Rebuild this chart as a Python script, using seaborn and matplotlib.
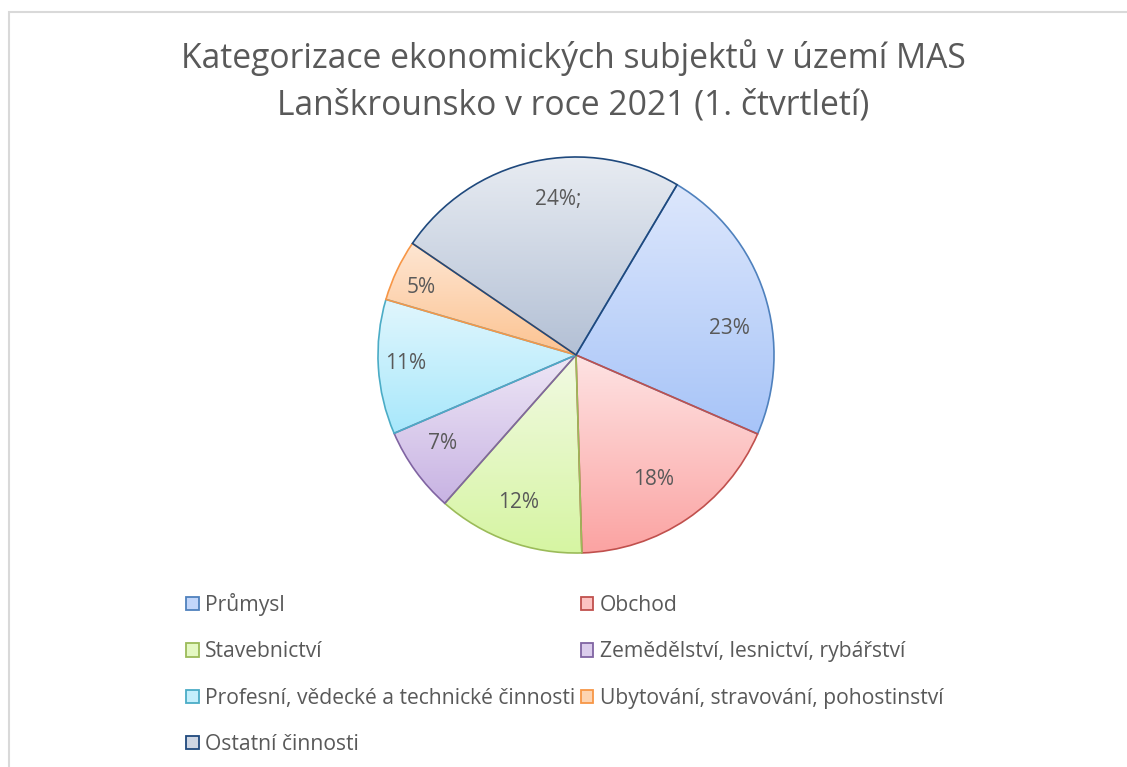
import numpy as np
import matplotlib
matplotlib.use("Agg")
import matplotlib.pyplot as plt
import matplotlib.colors as mcolors
from matplotlib.patches import Rectangle
import seaborn as sns

sns.set_theme(style="white")
plt.rcParams['font.family'] = ['Open Sans', 'DejaVu Sans']

# ---- data ----
categories = ["Průmysl", "Obchod", "Stavebnictví", "Zemědělství, lesnictví, rybářství",
              "Profesní, vědecké a technické činnosti", "Ubytování, stravování, pohostinství",
              "Ostatní činnosti"]
shares = [23, 18, 12, 7, 11, 5, 24]
value_labels = ["23%", "18%", "12%", "7%", "11%", "5%", "24%;"]
title = "Kategorizace ekonomických subjektů v území MAS\nLanškrounsko v roce 2021 (1. čtvrtletí)"

# ---- styles ----
edge_colors = ["#4f81bd", "#c0504d", "#9bbb59", "#8064a2", "#4bacc6", "#f79646", "#1f497d"]
top_colors = ["#dde7fc", "#fee3e3", "#f2fae4", "#eee7f6", "#e1f6fd", "#fee6d3", "#e8ecf2"]
bot_colors = ["#a7c4f8", "#fba3a2", "#d6f5a2", "#c8b3e3", "#a8e8fb", "#fcc391", "#b3c0d5"]
label_radius = [0.785, 0.74, 0.80, 0.81, 0.86, 0.855, 0.79]
label_angle_shift = [-8.0, -2.1, -1.4, -2.3, -0.8, 1.7, -6.0]
text_color = "#595959"

W, H = 1127, 767
fig = plt.figure(figsize=(W / 100, H / 100), dpi=100)
fig.patch.set_facecolor("white")

# frame
fig.patches.append(Rectangle((9 / W, -0.1), 1.2, 1 - 12 / H + 0.1, transform=fig.transFigure,
                             fill=False, edgecolor="#d9d9d9", lw=1.5, zorder=0))

cx, cy, R = 576, 355, 199
ax = fig.add_axes([(cx - R) / W, (H - cy - R) / H, 2 * R / W, 2 * R / H])

mid_colors = [mcolors.to_hex((np.array(mcolors.to_rgb(t)) + np.array(mcolors.to_rgb(b))) / 2)
              for t, b in zip(top_colors, bot_colors)]

wedges, _ = ax.pie(shares, colors=mid_colors, startangle=59.3, counterclock=False,
                   radius=1.0, wedgeprops=dict(linewidth=1.2))

for w, ec in zip(wedges, edge_colors):
    w.set_edgecolor(ec)

# legend (row-wise ordering like Excel)
order = [0, 2, 4, 6, 1, 3, 5]
leg = fig.legend([wedges[i] for i in order], [categories[i] for i in order],
                 loc="upper left", bbox_to_anchor=(186 / W, 1 - 593 / H),
                 ncol=2, frameon=False, fontsize=15.2, handlelength=0.6, handleheight=0.6,
                 handletextpad=0.3, labelspacing=1.2, columnspacing=0.25, borderpad=0,
                 borderaxespad=0)
for t in leg.get_texts():
    t.set_color(text_color)
for h in leg.legend_handles:
    h.set_linewidth(1.3)

# gradient fills clipped to wedges
for w, tc, bc in zip(wedges, top_colors, bot_colors):
    bb = w.get_path().get_extents(w.get_patch_transform())
    t = np.array(mcolors.to_rgb(tc))
    b = np.array(mcolors.to_rgb(bc))
    f = np.linspace(0, 1, 256)[:, None]
    grad = (t[None, :] * (1 - f) + b[None, :] * f)[:, None, :]
    im = ax.imshow(grad, extent=[bb.x0, bb.x1, bb.y0, bb.y1], origin="upper",
                   aspect="auto", zorder=1, interpolation="bilinear")
    im.set_clip_path(w)
    w.set_facecolor("none")
    w.set_zorder(2)

# value labels
for w, lab, r, sh in zip(wedges, value_labels, label_radius, label_angle_shift):
    ang = np.deg2rad((w.theta1 + w.theta2) / 2 + sh)
    ax.text(r * np.cos(ang), r * np.sin(ang), lab, ha="center", va="center",
            fontsize=15, color=text_color, zorder=3)

ax.set_xlim(-1.005, 1.005)
ax.set_ylim(-1.005, 1.005)
ax.set_aspect("equal")
ax.axis("off")

fig.text(573 / W, 1 - 81 / H, title, ha="center", va="center", fontsize=24.2,
         color=text_color, linespacing=1.48)

fig.savefig("out.png", dpi=100)
